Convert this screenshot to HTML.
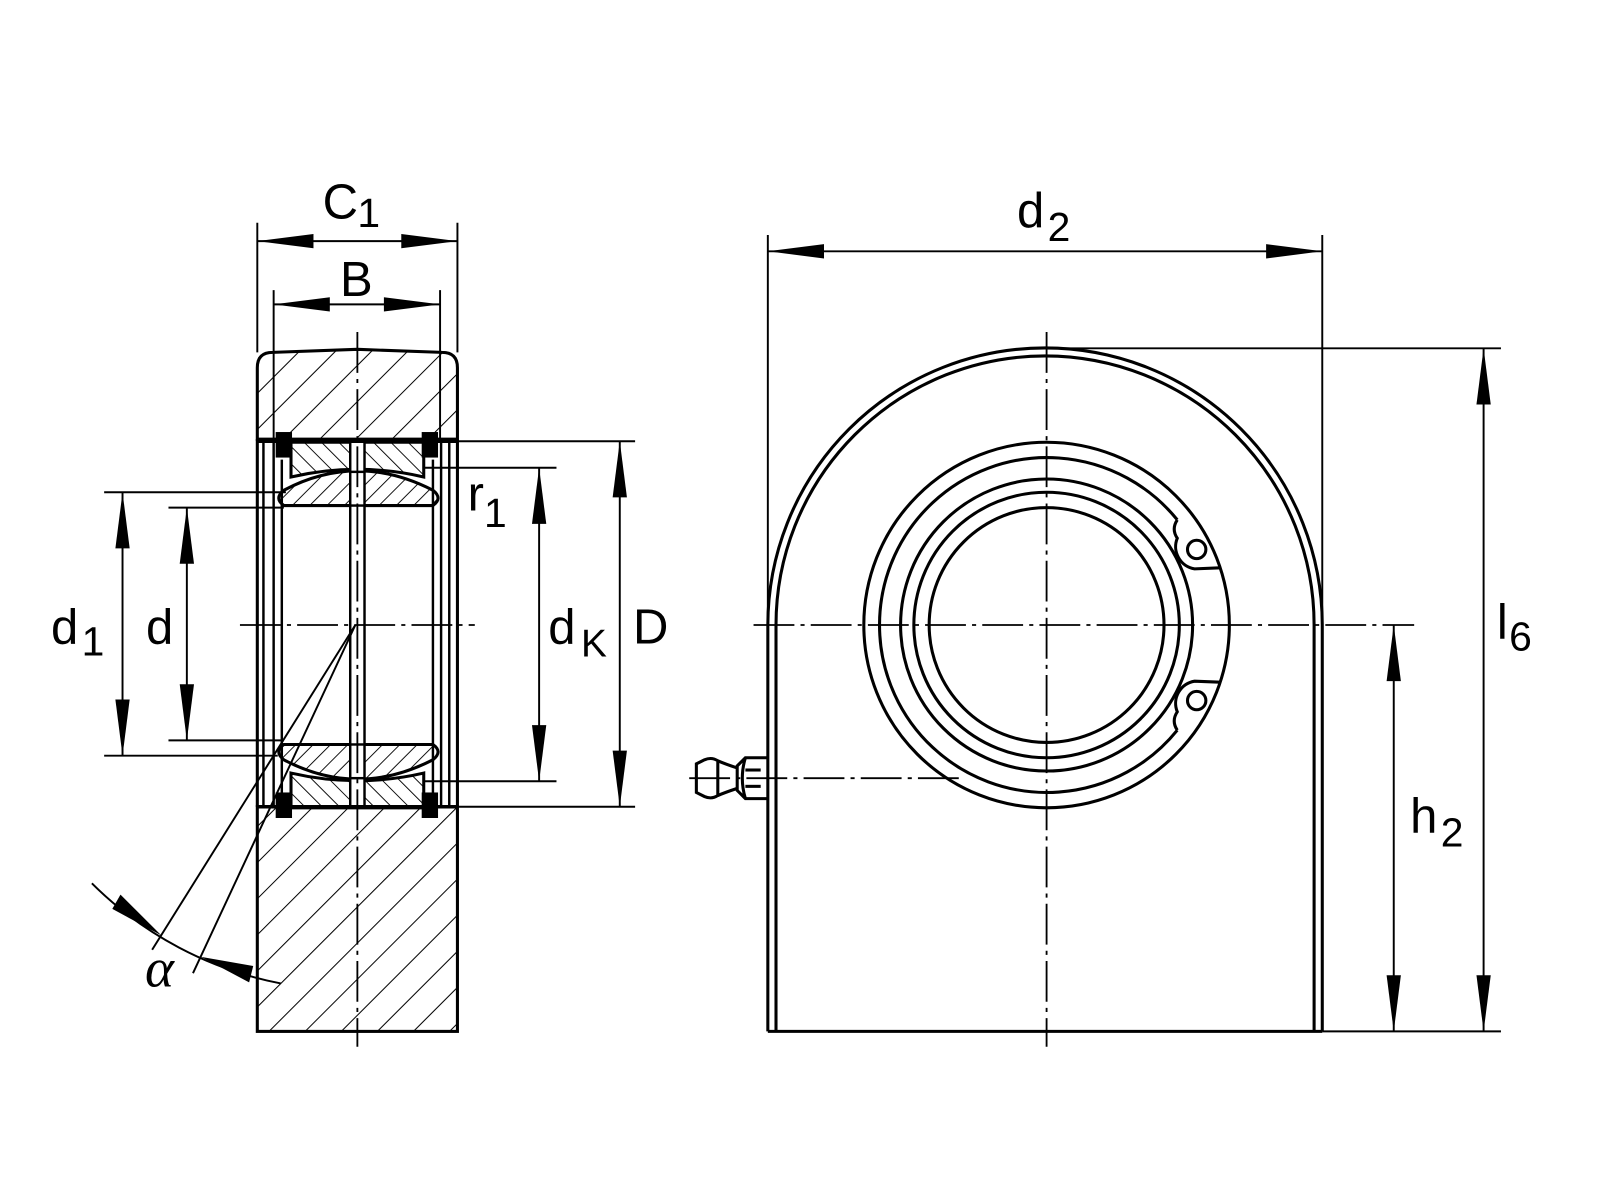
<!DOCTYPE html>
<html><head><meta charset="utf-8"><style>html,body{margin:0;padding:0;background:#fff}svg{display:block}</style></head>
<body>
<svg width="1600" height="1200" viewBox="0 0 1567 1175" xmlns="http://www.w3.org/2000/svg" font-family="'Liberation Sans', 'DejaVu Sans', sans-serif">
<defs>
<pattern id="hh" width="25" height="25" patternUnits="userSpaceOnUse" patternTransform="rotate(45)"><line x1="0" y1="0" x2="0" y2="25" stroke="#000" stroke-width="2"/></pattern>
<pattern id="hi" width="12" height="12" patternUnits="userSpaceOnUse" patternTransform="rotate(45)"><line x1="0" y1="0" x2="0" y2="12" stroke="#000" stroke-width="1.8"/></pattern>
<pattern id="ho" width="12" height="12" patternUnits="userSpaceOnUse" patternTransform="rotate(-45)"><line x1="0" y1="0" x2="0" y2="12" stroke="#000" stroke-width="1.8"/></pattern>
</defs>
<rect width="1567" height="1175" fill="#fff"/>
<g fill="none" stroke="#000" stroke-width="3">
<path d="M252,360 Q252,345 267,345 L350,342 L433,345 Q448,345 448,360 L448,430 L252,430 Z" fill="url(#hh)"/>
<rect x="252" y="790" width="196" height="220" fill="url(#hh)"/>
<line x1="252" y1="430" x2="252" y2="790"/><line x1="448" y1="430" x2="448" y2="790"/>
<line x1="258" y1="430" x2="258" y2="790" stroke-width="2.4"/><line x1="268" y1="430" x2="268" y2="790" stroke-width="2.4"/>
<line x1="276" y1="450" x2="276" y2="776" stroke-width="2.4"/>
<line x1="424" y1="450" x2="424" y2="776" stroke-width="2.4"/>
<line x1="432" y1="430" x2="432" y2="790" stroke-width="2.4"/><line x1="440" y1="430" x2="440" y2="790" stroke-width="2.4"/>
<path d="M285,433 L415,433 L415,467 Q350,452 285,467 Z" fill="url(#ho)"/>
<path d="M285,791 L415,791 L415,757 Q350,772 285,757 Z" fill="url(#ho)"/>
<path d="M278,480 Q350,442 424,480 Q434,488 424,495 L278,495 Q268,488 278,480 Z" fill="url(#hi)"/>
<path d="M278,744 Q350,782 424,744 Q434,736 424,729 L278,729 Q268,736 278,744 Z" fill="url(#hi)"/>
<rect x="343" y="432" width="14" height="359" fill="#fff" stroke-width="2.4"/>
<line x1="343" y1="462" x2="357" y2="462" stroke-width="2.4"/><line x1="343" y1="495" x2="357" y2="495" stroke-width="2.4"/>
<line x1="343" y1="729" x2="357" y2="729" stroke-width="2.4"/><line x1="343" y1="762" x2="357" y2="762" stroke-width="2.4"/>
<line x1="252" y1="432" x2="448" y2="432" stroke-width="3.4"/><line x1="252" y1="790" x2="448" y2="790" stroke-width="3.4"/>
</g>
<g fill="#000">
<rect x="270" y="423" width="16" height="25"/><rect x="413" y="423" width="16" height="25"/>
<rect x="270" y="776" width="16" height="25"/><rect x="413" y="776" width="16" height="25"/>
</g>
<g stroke="#000" stroke-width="1.8" fill="none" stroke-dasharray="40 6 4 6">
<line x1="350" y1="325" x2="350" y2="1025"/>
<line x1="235" y1="612" x2="465" y2="612"/>
<line x1="1025" y1="325" x2="1025" y2="1025"/>
<line x1="738" y1="612" x2="1385" y2="612"/>
<line x1="675" y1="762" x2="945" y2="762"/>
</g>
<g stroke="#000" stroke-width="1.9" fill="none">
<line x1="252" y1="218" x2="252" y2="345"/><line x1="448" y1="218" x2="448" y2="345"/>
<line x1="252" y1="236" x2="448" y2="236"/>
<line x1="268" y1="284" x2="268" y2="432"/><line x1="431" y1="284" x2="431" y2="432"/>
<line x1="268" y1="298" x2="431" y2="298"/>
<line x1="102" y1="482" x2="280" y2="482"/><line x1="102" y1="740" x2="272" y2="740"/><line x1="120" y1="482" x2="120" y2="740"/>
<line x1="165" y1="497" x2="278" y2="497"/><line x1="165" y1="725" x2="278" y2="725"/><line x1="183" y1="497" x2="183" y2="725"/>
<line x1="415" y1="458" x2="545" y2="458"/><line x1="415" y1="765" x2="545" y2="765"/><line x1="528" y1="458" x2="528" y2="765"/>
<line x1="440" y1="432" x2="622" y2="432"/><line x1="440" y1="790" x2="622" y2="790"/><line x1="607" y1="432" x2="607" y2="790"/>
<line x1="348" y1="612" x2="149" y2="930"/><line x1="348" y1="612" x2="189" y2="953"/>
<path d="M90,865 A358 358 0 0 0 275,963"/>
<line x1="752" y1="230" x2="752" y2="612"/><line x1="1295" y1="230" x2="1295" y2="600"/><line x1="752" y1="246" x2="1295" y2="246"/>
<line x1="1025" y1="341" x2="1470" y2="341"/><line x1="1295" y1="1010" x2="1470" y2="1010"/><line x1="1453" y1="341" x2="1453" y2="1010"/>
<line x1="1365" y1="612" x2="1365" y2="1010"/>
</g>
<g fill="#000">
<polygon points="252,236 307,229 307,243"/><polygon points="448,236 393,229 393,243"/>
<polygon points="268,298 323,291 323,305"/><polygon points="431,298 376,291 376,305"/>
<polygon points="120,482 113,537 127,537"/><polygon points="120,740 113,685 127,685"/>
<polygon points="183,497 176,552 190,552"/><polygon points="183,725 176,670 190,670"/>
<polygon points="528,458 521,513 535,513"/><polygon points="528,765 521,710 535,710"/>
<polygon points="607,432 600,487 614,487"/><polygon points="607,790 600,735 614,735"/>
<polygon points="752,246 807,239 807,253"/><polygon points="1295,246 1240,239 1240,253"/>
<polygon points="1453,341 1446,396 1460,396"/><polygon points="1453,1010 1446,955 1460,955"/>
<polygon points="1365,612 1358,667 1372,667"/><polygon points="1365,1010 1358,955 1372,955"/>
<polygon points="158,916 110,890 118,876"/><polygon points="197,937 248,946 244,962"/>
</g>
<g fill="none" stroke="#000" stroke-width="3">
<path d="M752,1010 L752,612 A271.5 271.5 0 0 1 1295,612 L1295,1010"/>
<path d="M760,1010 L760,612 A263.5 263.5 0 0 1 1287,612 L1287,1010"/>
<line x1="752" y1="1010" x2="1295" y2="1010"/>
<circle cx="1025" cy="612" r="179"/>
<path d="M1153,509 A164 164 0 1 0 1153,715"/>
<path d="M1153,509 Q1147,518 1153,527 A22 22 0 0 0 1170,557 L1195,556"/>
<path d="M1153,715 Q1147,706 1153,697 A22 22 0 0 1 1170,667 L1195,668"/>
<circle cx="1172" cy="538" r="9"/><circle cx="1172" cy="686" r="9"/>
<circle cx="1025" cy="612" r="143"/>
<circle cx="1025" cy="612" r="130"/>
<circle cx="1025" cy="612" r="115"/>
<path d="M752,742 L730,742 L722,750 L722,774 L730,782 L752,782"/>
<path d="M730,742 Q724,762 730,782"/>
<line x1="730" y1="754" x2="745" y2="754"/><line x1="730" y1="770" x2="745" y2="770"/>
<path d="M722,752 Q710,748 703,745 Q697,741 690,744 L682,748 L682,776 L690,780 Q697,783 703,779 Q710,776 722,772"/>
<line x1="703" y1="746" x2="703" y2="778"/>
</g>
<g fill="#000" font-size="48">
<text x="316" y="214">C</text><text x="350" y="222" font-size="40">1</text>
<text x="333" y="290">B</text>
<text x="50" y="630">d</text><text x="80" y="642" font-size="40">1</text>
<text x="143" y="630">d</text>
<text x="537" y="630">d</text><text x="569" y="643" font-size="38">K</text>
<text x="620" y="630">D</text>
<text x="458" y="500">r</text><text x="474" y="516" font-size="40">1</text>
<text x="142" y="966" font-size="54" font-family="'Liberation Serif', serif" font-style="italic">α</text>
<text x="996" y="222">d</text><text x="1026" y="236" font-size="40">2</text>
<text x="1466" y="625">l</text><text x="1478" y="637" font-size="40">6</text>
<text x="1381" y="815">h</text><text x="1411" y="829" font-size="40">2</text>
</g>
</svg>
</body></html>
